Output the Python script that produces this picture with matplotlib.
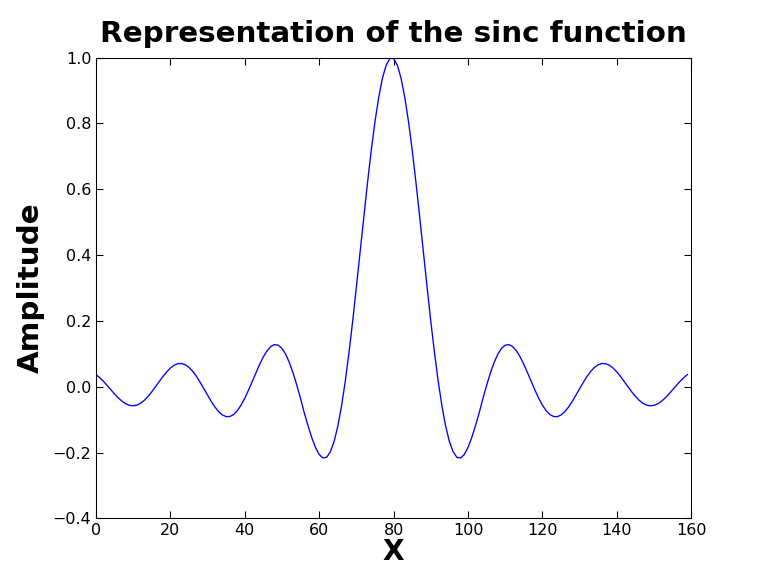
import matplotlib
matplotlib.use("Agg")
import matplotlib.pyplot as plt
import numpy as np

# samples 0..79 (left half of the curve)
amp_left = [0.0371, 0.0277, 0.0165, 0.0039, -0.0092, -0.0222, -0.0341, -0.0442,
            -0.0519, -0.0566, -0.0579, -0.0558, -0.0500, -0.0411, -0.0293, -0.0153,
            0.0000, 0.0158, 0.0312, 0.0451, 0.0568, 0.0653, 0.0700, 0.0706,
            0.0669, 0.0588, 0.0468, 0.0314, 0.0135, -0.0059, -0.0258, -0.0450,
            -0.0621, -0.0760, -0.0859, -0.0908, -0.0904, -0.0843, -0.0726, -0.0558,
            -0.0347, -0.0104, 0.0160, 0.0427, 0.0682, 0.0912, 0.1096, 0.1222,
            0.1281, 0.1263, 0.1164, 0.0984, 0.0730, 0.0410, 0.0039, -0.0364,
            -0.0795, -0.1187, -0.1545, -0.1844, -0.2060, -0.2164, -0.2143, -0.1976,
            -0.1665, -0.1202, -0.0589, 0.0160, 0.1028, 0.1990, 0.3028, 0.4097,
            0.5172, 0.6215, 0.7189, 0.8060, 0.8794, 0.9375, 0.9770, 0.9975]
# samples 80..159 (right half)
amp_right = [0.9975, 0.9770, 0.9375, 0.8794, 0.8060, 0.7189, 0.6215, 0.5172,
             0.4097, 0.3028, 0.1990, 0.1028, 0.0160, -0.0589, -0.1202, -0.1665,
             -0.1976, -0.2143, -0.2164, -0.2060, -0.1844, -0.1545, -0.1187, -0.0795,
             -0.0364, 0.0039, 0.0410, 0.0730, 0.0984, 0.1164, 0.1263, 0.1281,
             0.1222, 0.1096, 0.0912, 0.0682, 0.0427, 0.0160, -0.0104, -0.0347,
             -0.0558, -0.0726, -0.0843, -0.0904, -0.0908, -0.0859, -0.0760, -0.0621,
             -0.0450, -0.0258, -0.0059, 0.0135, 0.0314, 0.0468, 0.0588, 0.0669,
             0.0706, 0.0700, 0.0653, 0.0568, 0.0451, 0.0312, 0.0158, 0.0000,
             -0.0153, -0.0293, -0.0411, -0.0500, -0.0558, -0.0579, -0.0566, -0.0519,
             -0.0442, -0.0341, -0.0222, -0.0092, 0.0039, 0.0165, 0.0277, 0.0371]

amp = amp_left + amp_right
x = np.arange(len(amp))

fig = plt.figure(figsize=(8, 6), dpi=96)
ax = fig.add_axes([0.125, 0.1, 0.775, 0.8])
ax.plot(x, amp, color='b', linewidth=1)

ax.set_xlim(0, 160)
ax.set_ylim(-0.4, 1.0)
ax.set_xticks(range(0, 161, 20))
ax.set_yticks(np.arange(-0.4, 1.01, 0.2))
ax.tick_params(direction='in', top=True, right=True, labelsize=12, length=5)
ax.set_title('Representation of the sinc function', fontsize=22, fontweight='bold', pad=12)
ax.set_xlabel('X', fontsize=21, fontweight='bold', labelpad=0)
ax.set_ylabel('Amplitude', fontsize=22, fontweight='bold', labelpad=6)

fig.savefig('out.png', dpi=96)
